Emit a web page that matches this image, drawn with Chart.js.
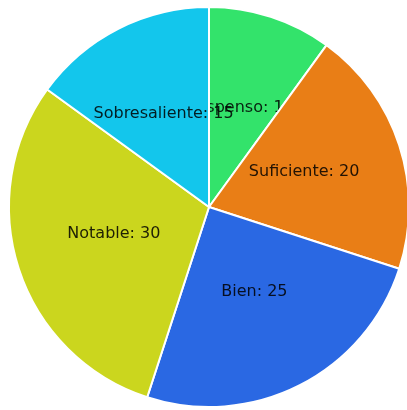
<!DOCTYPE html>
<html>
<head>
<meta charset="utf-8">
<script src="https://cdn.jsdelivr.net/npm/chart.js@4.4.1/dist/chart.umd.min.js"></script>
<style>
  html, body { margin: 0; padding: 0; background: #fff; overflow: hidden; }
  #notasChart { display: block; }
</style>
</head>
<body>
<canvas id="notasChart" width="418" height="410"></canvas>
<script>
const categories = ["Suspenso", "Suficiente", "Bien", "Notable", "Sobresaliente"];
const counts = [10, 20, 25, 30, 15];
const sliceColors = ["#33e36b", "#e97e16", "#2a68e3", "#cbd61e", "#13c6ec"];

/** Draw each slice followed by its label, so later slices cover earlier labels */
const sliceLabels = {
    id: "sliceLabels",
    afterDatasetsDraw(chart) {
        const ctx = chart.ctx;
        const arcs = chart.getDatasetMeta(0).data;
        arcs.forEach((arc, i) => {
            arc.draw(ctx);
            const { x, y, outerRadius, startAngle, endAngle } = arc.getProps(
                ["x", "y", "outerRadius", "startAngle", "endAngle"],
                true
            );
            const mid = (startAngle + endAngle) / 2;
            const r = outerRadius / 2;
            ctx.save();
            ctx.font = "16px 'DejaVu Sans'";
            ctx.fillStyle = "rgba(0, 0, 0, 0.85)";
            ctx.textAlign = "center";
            ctx.textBaseline = "alphabetic";
            ctx.fillText(
                `${chart.data.labels[i]}: ${chart.data.datasets[0].data[i]}`,
                x + Math.cos(mid) * r,
                y + Math.sin(mid) * r
            );
            ctx.restore();
        });
    },
};

new Chart(document.getElementById("notasChart"), {
    type: "pie",
    data: {
        labels: categories,
        datasets: [
            {
                data: counts,
                backgroundColor: sliceColors,
                borderColor: "#ffffff",
                borderWidth: 2,
            },
        ],
    },
    options: {
        responsive: false,
        animation: false,
        layout: { padding: { left: 8, right: 8, top: 6, bottom: 2 } },
        plugins: {
            legend: { display: false },
            tooltip: { enabled: false },
        },
    },
    plugins: [sliceLabels],
});
</script>
</body>
</html>
